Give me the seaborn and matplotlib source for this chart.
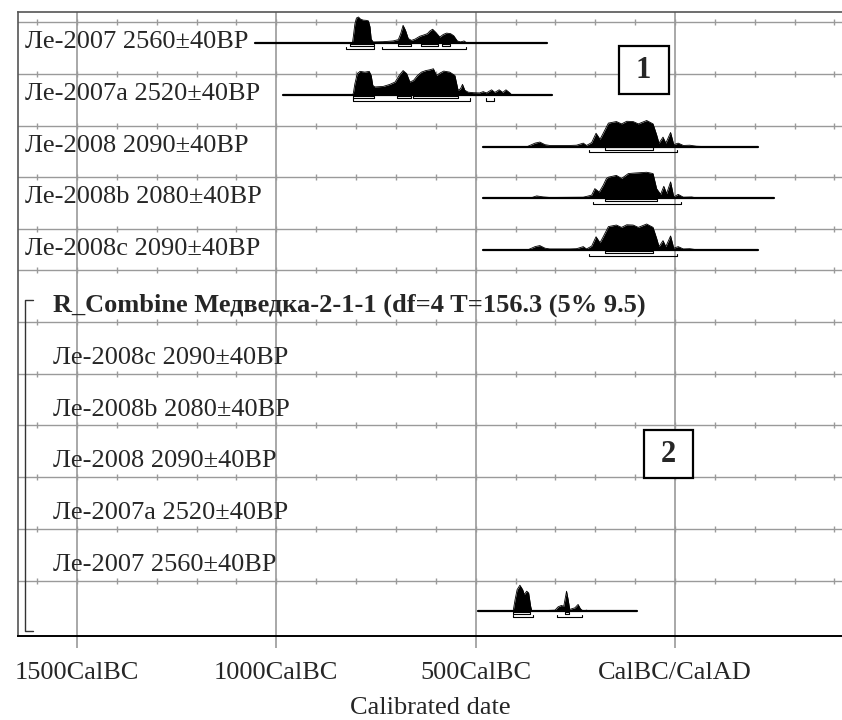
import numpy as np
import matplotlib
matplotlib.use('Agg')
from matplotlib import pyplot as plt
from matplotlib.patches import Rectangle
import seaborn as sns

# calibrated probability profiles: year (negative = BC), height in % of peak
LE2007_YEAR = [-815, -809, -807, -803, -799, -794, -789, -782, -774, -769, -765, -762, -757, -732, -707,
               -694, -688, -682, -676, -669, -661, -652, -640, -630, -621, -615, -608, -600, -590, -581,
               -573, -563, -555, -546, -538, -529, -523, -489, -473]
LE2007_P = [0, 2, 23, 73, 96, 100, 92, 88, 87, 85, 62, 15, 4, 5, 8,
            13, 36, 68, 49, 17, 10, 15, 26, 31, 36, 46, 53, 41, 23, 33,
            38, 36, 28, 8, 4, 8, 1, 1, 0]

LE2007A_YEAR = [-810, -807, -803, -797, -790, -778, -767, -762, -758, -753, -732, -715, -702, -692, -682,
                -673, -665, -656, -646, -636, -625, -615, -606, -598, -590, -580, -565, -552, -544, -538,
                -533, -527, -519, -506, -490, -481, -473, -460, -452, -441, -432, -424, -414, -410]
LE2007A_P = [0, 4, 42, 81, 90, 87, 90, 74, 36, 30, 32, 40, 49, 74, 93,
             81, 49, 55, 74, 87, 93, 96, 100, 74, 83, 91, 87, 74, 17, 23,
             40, 17, 10, 8, 7, 12, 7, 19, 9, 19, 9, 19, 7, 0]

LE2008_YEAR = [-370, -351, -339, -326, -314, -264, -247, -230, -222, -209, -198, -188, -180, -167, -147,
               -134, -121, -105, -92, -71, -55, -46, -40, -30, -23, -11, -3, 8, 21, 37, 54, 70]
LE2008_P = [0, 13, 17, 7, 4, 4, 5, 13, 4, 15, 51, 28, 51, 90, 96,
            87, 97, 96, 87, 100, 87, 45, 13, 36, 13, 54, 7, 13, 4, 5, 1, 0]

LE2008B_YEAR = [-364, -347, -330, -314, -230, -209, -201, -190, -180, -172, -167, -147, -134, -117, -101,
                -71, -55, -46, -36, -28, -21, -11, -3, 8, 21, 42, 54, 71]
LE2008B_P = [0, 9, 5, 3, 4, 12, 37, 24, 50, 76, 81, 88, 76, 95, 97,
             100, 95, 37, 15, 46, 18, 63, 5, 15, 4, 5, 1, 0]

COMBINE_YEAR = [-406, -401, -396, -389, -382, -378, -372, -367, -362, -359, -318, -301, -293, -285, -279,
                -272, -268, -264, -251, -243, -237, -230, -222, -215]
COMBINE_P = [0, 45, 83, 100, 83, 64, 77, 70, 19, 0, 3, 4, 17, 22, 19,
             77, 45, 7, 13, 26, 9, 0, 4, 0]

# plotted span of each distribution line
LE2007_SPAN = (-1054, -321)
LE2007A_SPAN = (-983, -309)
LE2008_SPAN = (-481, 209)
LE2008B_SPAN = (-481, 249)
COMBINE_SPAN = (-494, -96)

# 68.2% and 95.4% ranges
LE2007_R68 = [(-815, -755), (-696, -663), (-636, -594), (-585, -565)]
LE2007_R95 = [(-825, -754), (-736, -524)]
LE2007A_R68 = [(-807, -755), (-697, -663), (-656, -544)]
LE2007A_R95 = [(-807, -514), (-475, -454)]
LE2008_R68 = [(-175, -55)]
LE2008_R95 = [(-215, 6)]
LE2008B_R68 = [(-175, -45)]
LE2008B_R95 = [(-205, 15)]
COMBINE_R68 = [(-406, -364), (-276, -265)]
COMBINE_R95 = [(-406, -356), (-295, -234)]

TOP_LABELS = ['Ле-2007 2560±40BP', 'Ле-2007a 2520±40BP', 'Ле-2008 2090±40BP',
              'Ле-2008b 2080±40BP', 'Ле-2008c 2090±40BP']
COMBINE_TITLE = 'R_Combine Медведка-2-1-1 (df=4 T=156.3 (5% 9.5)'
BOTTOM_LABELS = ['Ле-2008c 2090±40BP', 'Ле-2008b 2080±40BP', 'Ле-2008 2090±40BP',
                 'Ле-2007a 2520±40BP', 'Ле-2007 2560±40BP']
MAJOR_TICKS = [-1500, -1000, -500, 0]
TICK_LABELS = ['1500CalBC', '1000CalBC', '500CalBC', 'CalBC/CalAD']

# layout (y in pixel-like units, top = 12, bottom = 636)
W, H = 842, 720
XLIM = (-1648, 419)
YTOP, YBOT = 12, 636
ROW_H = 51.75
PEAK_H = 26
GRID = '#9a9a9a'

sns.set_style('white')
plt.rcParams['font.family'] = ['Liberation Serif', 'DejaVu Serif']

fig = plt.figure(figsize=(W / 100, H / 100), dpi=100)
ax = fig.add_axes([18 / W, 1 - YBOT / H, (W - 18) / W, (YBOT - YTOP) / H])
ax.set_xlim(*XLIM)
ax.set_ylim(YBOT, YTOP)

minor = np.arange(-1600, 401, 100)

# horizontal grid with crosses
top_grid = [22 + ROW_H * i for i in range(5)]
bot_grid = [270 + ROW_H * k for k in range(7)]
for y in top_grid + bot_grid:
    ax.axhline(y, color=GRID, lw=1, zorder=1)
    ax.vlines(minor, y - 3, y + 3, color=GRID, lw=1, zorder=1)
ax.vlines(MAJOR_TICKS, YTOP, 648, color=GRID, lw=1.2, clip_on=False, zorder=1)


def draw_dist(years, probs, span, r68, r95, base):
    yy = base - np.array(probs) / 100 * PEAK_H
    ax.plot(span, [base, base], color='k', lw=1.6, zorder=3)
    ax.fill_between(years, base, yy, color='k', lw=0, zorder=3)
    sns.lineplot(x=years, y=yy, color='k', lw=0.6, estimator=None, sort=False, ax=ax, zorder=3)
    for a, b in r68:
        ax.plot([a, a, b, b, a], [base + 0.8, base + 3, base + 3, base + 0.8, base + 0.8],
                color='k', lw=0.8, zorder=3)
    for a, b in r95:
        ax.plot([a, a, b, b], [base + 3.6, base + 5.8, base + 5.8, base + 3.6],
                color='k', lw=0.8, zorder=3)


dists = [
    (LE2007_YEAR, LE2007_P, LE2007_SPAN, LE2007_R68, LE2007_R95),
    (LE2007A_YEAR, LE2007A_P, LE2007A_SPAN, LE2007A_R68, LE2007A_R95),
    (LE2008_YEAR, LE2008_P, LE2008_SPAN, LE2008_R68, LE2008_R95),
    (LE2008B_YEAR, LE2008B_P, LE2008B_SPAN, LE2008B_R68, LE2008B_R95),
    (LE2008_YEAR, LE2008_P, LE2008_SPAN, LE2008_R68, LE2008_R95),
]
for g, d in zip(top_grid, dists):
    draw_dist(*d, base=g + 21)
draw_dist(COMBINE_YEAR, COMBINE_P, COMBINE_SPAN, COMBINE_R68, COMBINE_R95, base=bot_grid[-1] + 30.7)

# labels
for g, lab in zip(top_grid, TOP_LABELS):
    ax.text(-1630, g + 26, lab, fontsize=19, va='baseline', ha='left', zorder=4)
ax.text(-1560, bot_grid[0] + 42, COMBINE_TITLE, fontsize=19, fontweight='bold',
        va='baseline', ha='left', zorder=4)
for g, lab in zip(bot_grid[1:], BOTTOM_LABELS):
    ax.text(-1560, g + 42, lab, fontsize=19, va='baseline', ha='left', zorder=4)

# combine bracket
ax.plot([-1610, -1630, -1630, -1610], [300, 300, 631, 631], color='#333333', lw=1, zorder=2)

# numbered boxes
for (x0, x1, y0, y1, num) in [(-141, -16, 46, 94, '1'), (-78, 45, 430, 478, '2')]:
    ax.add_patch(Rectangle((x0, y0), x1 - x0, y1 - y0, facecolor='white', edgecolor='k',
                           lw=1.6, zorder=5))
    ax.text((x0 + x1) / 2, (y0 + y1) / 2 + 1, num, fontsize=22, fontweight='bold',
            ha='center', va='center', zorder=6)

# axes frame and ticks
for side in ['top', 'left']:
    ax.spines[side].set_color('#555555')
    ax.spines[side].set_linewidth(1.2)
ax.spines['right'].set_visible(False)
ax.spines['bottom'].set_color('k')
ax.spines['bottom'].set_linewidth(1.4)
ax.set_yticks([])
ax.set_xticks(MAJOR_TICKS, TICK_LABELS)
ax.set_xticks(minor, minor=True)
ax.tick_params(axis='x', which='major', direction='in', length=10, width=1.3, color='k',
               labelsize=19, pad=19)
ax.tick_params(axis='x', which='minor', direction='in', length=5, width=1.1, color='k')
ax.set_xlabel('Calibrated date', fontsize=19, labelpad=9)

fig.savefig('out.png', dpi=100)
